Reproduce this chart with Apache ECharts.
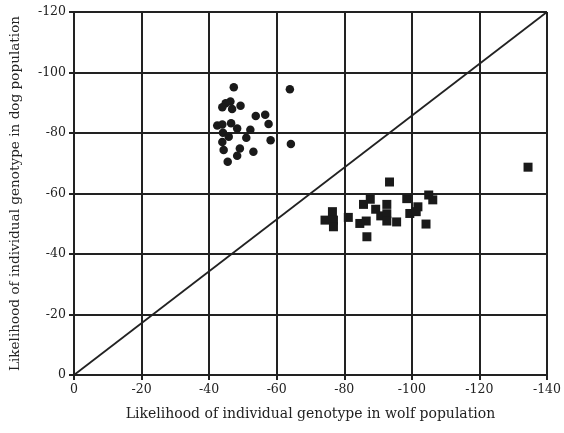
<!DOCTYPE html>
<html>
<head>
<meta charset="utf-8">
<script src="https://cdn.jsdelivr.net/npm/echarts@6/dist/echarts.min.js"></script>
<style>
  html, body { margin: 0; padding: 0; background: #fff; }
  #chart { width: 564px; height: 433px; }
</style>
</head>
<body>
<div id="chart"></div>
<script>
// dog individuals: [wolf likelihood, dog likelihood]
var dogPoints = [
  [-47.3, -95.1], [-63.9, -94.5], [-44.9, -89.8], [-46.3, -90.4], [-43.9, -88.5],
  [-46.8, -87.9], [-49.3, -89.0], [-53.8, -85.6], [-56.6, -86.0], [-57.6, -83.0],
  [-42.4, -82.5], [-43.9, -82.8], [-46.5, -83.2], [-48.3, -81.5], [-52.2, -81.1],
  [-44.1, -80.1], [-45.8, -78.8], [-51.0, -78.4], [-58.2, -77.6], [-43.9, -77.0],
  [-64.2, -76.4], [-44.3, -74.4], [-49.1, -74.9], [-53.1, -73.8], [-48.3, -72.5],
  [-45.5, -70.5]
];
// wolf individuals
var wolfPoints = [
  [-93.4, -63.8], [-76.5, -54.0], [-74.3, -51.2], [-76.8, -51.2], [-76.8, -49.0],
  [-81.2, -52.1], [-87.7, -58.1], [-85.7, -56.4], [-92.6, -56.4], [-89.3, -54.8],
  [-90.8, -52.6], [-92.6, -53.3], [-92.6, -50.9], [-86.5, -50.9], [-84.6, -50.1],
  [-86.7, -45.7], [-95.5, -50.6], [-98.5, -58.3], [-99.4, -53.4], [-101.8, -55.6],
  [-101.3, -54.0], [-104.2, -49.9], [-105.0, -59.5], [-106.2, -57.9], [-134.4, -68.7]
];
var diagonal = [[0, 0], [-140, -120]];

var xName = 'Likelihood of individual genotype in wolf population';
var yName = 'Likelihood of individual genotype in dog population';

var font = 'DejaVu Serif';
var chart = echarts.init(document.getElementById('chart'));
chart.setOption({
  animation: false,
  backgroundColor: '#fff',
  grid: { left: 73, right: 12, top: 12, bottom: 58 },
  xAxis: {
    type: 'value', min: -140, max: 0, interval: 20, inverse: true,
    name: xName, nameLocation: 'middle', nameGap: 32,
    nameTextStyle: { fontFamily: font, fontSize: 14, color: '#222' },
    axisLine: { lineStyle: { color: '#222', width: 2 } },
    axisTick: { show: true, length: 5, lineStyle: { color: '#222', width: 2 } },
    axisLabel: { fontFamily: font, fontSize: 12.5, color: '#222', margin: 8 },
    splitLine: { show: true, lineStyle: { color: '#222', width: 2 } }
  },
  yAxis: {
    type: 'value', min: -120, max: 0, interval: 20, inverse: true,
    name: yName, nameLocation: 'middle', nameGap: 52,
    nameTextStyle: { fontFamily: font, fontSize: 13.6, color: '#222' },
    axisLine: { lineStyle: { color: '#222', width: 2 } },
    axisTick: { show: true, length: 5, lineStyle: { color: '#222', width: 2 } },
    axisLabel: { fontFamily: font, fontSize: 12.5, color: '#222', margin: 8 },
    splitLine: { show: true, lineStyle: { color: '#222', width: 2 } }
  },
  series: [
    {
      type: 'line', data: diagonal, symbol: 'none',
      lineStyle: { color: '#222', width: 1.8 }, silent: true
    },
    {
      type: 'scatter', data: dogPoints, symbol: 'circle', symbolSize: 8.5,
      itemStyle: { color: '#1a1a1a', opacity: 1 }
    },
    {
      type: 'scatter', data: wolfPoints, symbol: 'rect', symbolSize: 9,
      itemStyle: { color: '#1a1a1a', opacity: 1 }
    }
  ]
});
</script>
</body>
</html>
